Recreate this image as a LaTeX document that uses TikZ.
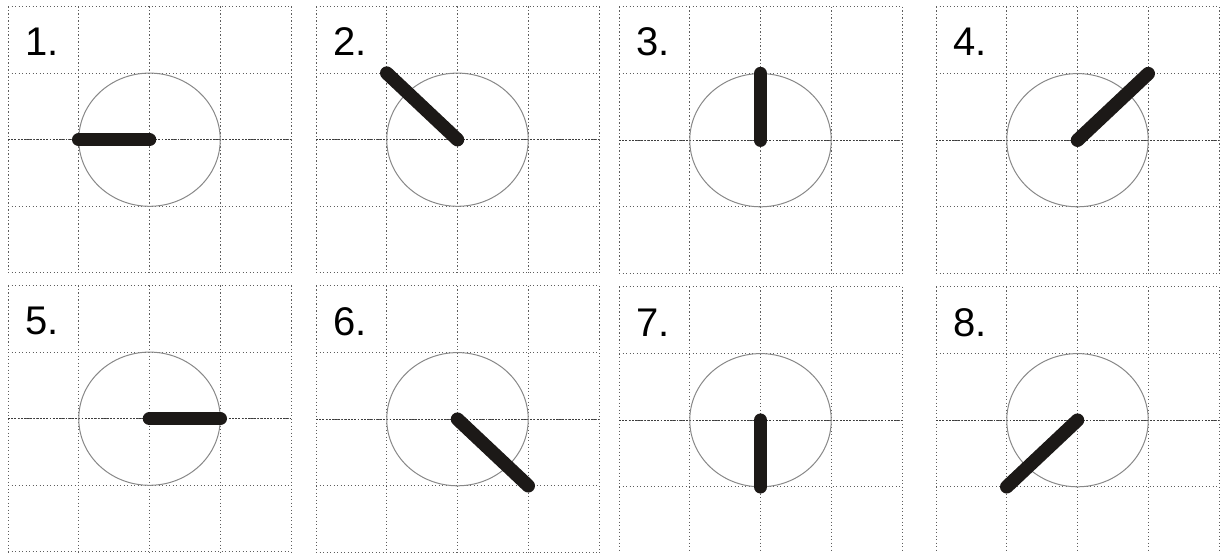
\documentclass[tikz,border=0pt]{standalone}
\usepackage{fontspec}
\setmainfont{Liberation Sans}
\definecolor{handcol}{HTML}{1C1917}
\definecolor{gridcol}{HTML}{5E5E5E}
\definecolor{axiscol}{HTML}{3C3C3C}
\definecolor{dialcol}{HTML}{888888}
\begin{document}
\begin{tikzpicture}[
  gridline/.style={draw=gridcol, line width=1pt, dash pattern=on 1.3pt off 2.2pt},
  axisline/.style={draw=axiscol, line width=1.3pt, dash pattern=on 1.8pt off 1.4pt},
  dial/.style={draw=dialcol, line width=1pt},
  hand/.style={draw=handcol, line width=13.5pt, line cap=round},
  lbl/.style={anchor=base west, inner sep=0pt, font=\fontsize{40}{40}\selectfont}
]
\path[use as bounding box] (0,0) rectangle (1226pt,-553pt);
\foreach \n/\X/\Y/\ex/\ey in {1/8/6.5/1/2, 2/316/6.5/1/1, 3/619/7/2/1, 4/936/7/3/1,
                               5/8/285.5/3/2, 6/316/286/3/3, 7/619/287/2/3, 8/936/287/1/3} {
  \begin{scope}[shift={(\X pt,-\Y pt)}, x=70.75pt, y=-66.6pt]
    \foreach \i in {0,...,4} {
      \draw[gridline] (\i,0) -- (\i,4);
      \draw[gridline] (0,\i) -- (4,\i);
    }
    \draw[axisline] (0,2) -- (4,2);
    \draw[dial] (2,2) ellipse [x radius=1, y radius=1];
    \coordinate (c\n) at (2,2);
    \coordinate (e\n) at (\ex,\ey);
    \draw[hand] (c\n) -- (e\n);
    \node[lbl] (l\n) at (17pt,-49pt) {\n.};
  \end{scope}
}
\end{tikzpicture}
\end{document}
